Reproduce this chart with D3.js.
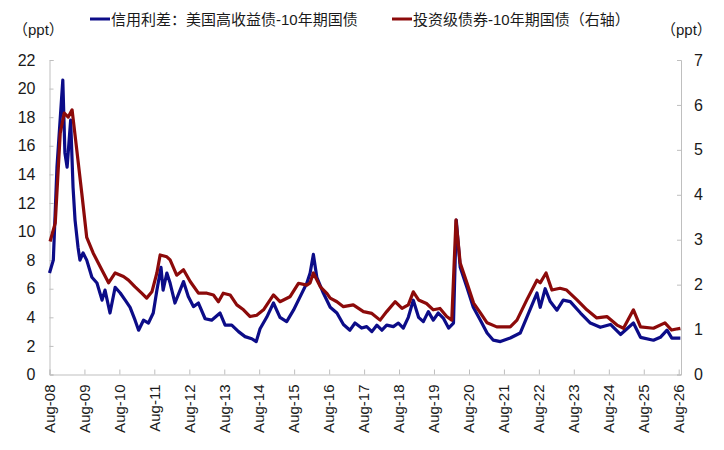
<!DOCTYPE html>
<html>
<head>
<meta charset="utf-8">
<script src="https://cdn.jsdelivr.net/npm/d3@7"></script>
<style>
  body { margin: 0; background: #fff; }
  text { font-family: "Liberation Sans", Arial, "Noto Sans CJK SC", sans-serif; fill: #1a1a1a; }
</style>
</head>
<body>
<div id="chart"></div>
<script>
// 高收益债利差（左轴）
const hyDates = ['2008-08-01','2008-09-10','2008-10-18','2008-12-18','2009-01-09','2009-02-01','2009-03-10','2009-04-04','2009-04-25','2009-05-26',
  '2009-06-15','2009-07-18','2009-08-25','2009-10-18','2009-12-10','2010-02-01','2010-03-04','2010-04-25','2010-06-18','2010-08-10',
  '2010-10-01','2010-11-21','2011-01-12','2011-02-18','2011-04-10','2011-06-01','2011-07-21','2011-08-28','2011-10-10','2011-11-01',
  '2011-12-10','2012-01-13','2012-03-04','2012-06-01','2012-07-21','2012-09-13','2012-11-04','2013-01-13','2013-03-22','2013-06-18',
  '2013-08-10','2013-10-18','2013-12-28','2014-03-06','2014-05-15','2014-07-01','2014-08-10','2014-10-18','2014-12-28','2015-03-06',
  '2015-05-15','2015-07-25','2015-10-03','2015-12-12','2016-01-15','2016-02-18','2016-03-25','2016-06-01','2016-08-12','2016-10-21',
  '2016-12-28','2017-03-06','2017-04-28','2017-07-06','2017-08-28','2017-10-21','2017-12-12','2018-02-03','2018-03-25','2018-06-03',
  '2018-07-25','2018-09-15','2018-11-06','2018-12-28','2019-02-21','2019-04-12','2019-06-03','2019-07-25','2019-09-15','2019-11-06',
  '2020-01-01','2020-02-21','2020-03-21','2020-05-01','2020-07-10','2020-09-15','2020-11-28','2021-02-06','2021-04-12','2021-06-25',
  '2021-10-06','2022-01-18','2022-03-28','2022-07-12','2022-08-15','2022-10-06','2022-11-28','2023-02-06','2023-04-12','2023-06-25',
  '2023-10-10','2024-01-21','2024-05-04','2024-08-18','2024-12-01','2025-04-15','2025-06-28','2025-11-10','2026-01-21','2026-04-01',
  '2026-05-21','2026-08-18'];
const hyValues = [7.1, 8.0, 14.5, 20.6, 15.5, 14.5, 17.8, 13.1, 10.8, 8.9,
  8.0, 8.5, 8.0, 6.8, 6.4, 5.2, 5.9, 4.3, 6.1, 5.7,
  5.2, 4.7, 3.8, 3.1, 3.8, 3.6, 4.3, 5.9, 7.5, 5.9,
  7.1, 6.4, 5.0, 6.5, 5.45, 4.75, 5.0, 3.9, 3.8, 4.3,
  3.45, 3.45, 3.0, 2.65, 2.5, 2.3, 3.2, 4.0, 5.0, 4.0,
  3.7, 4.5, 5.45, 6.4, 7.1, 8.4, 6.8, 5.7, 4.7, 4.3,
  3.5, 3.1, 3.6, 3.25, 3.35, 3.0, 3.45, 3.1, 3.45, 3.35,
  3.6, 3.25, 4.0, 5.2, 4.0, 3.7, 4.4, 3.8, 4.3, 3.95,
  3.25, 3.6, 10.8, 7.5, 6.1, 4.7, 3.8, 2.9, 2.4, 2.3,
  2.55, 2.9, 4.0, 5.7, 4.7, 6.0, 5.1, 4.5, 5.2, 5.1,
  4.3, 3.6, 3.3, 3.5, 2.8, 3.6, 2.6, 2.4, 2.6, 3.1,
  2.55, 2.55];

// 投资级债券利差（右轴）
const igDates = ['2008-08-07','2008-09-30','2008-11-21','2009-01-02','2009-02-13','2009-03-25','2009-05-13','2009-07-04','2009-08-25','2009-11-01',
  '2010-01-13','2010-04-10','2010-06-18','2010-09-13','2010-11-04','2011-01-12','2011-03-22','2011-05-13','2011-07-07','2011-08-28',
  '2011-10-01','2011-12-10','2012-01-13','2012-03-22','2012-06-01','2012-08-10','2012-11-04','2013-02-01','2013-04-10','2013-06-01',
  '2013-07-21','2013-10-01','2013-12-10','2014-02-18','2014-04-28','2014-07-06','2014-09-15','2014-12-28','2015-03-06','2015-06-18',
  '2015-09-15','2015-12-12','2016-01-15','2016-02-18','2016-05-01','2016-07-10','2016-08-12','2016-10-21','2016-12-28','2017-04-10',
  '2017-07-25','2017-10-21','2018-01-15','2018-03-25','2018-06-21','2018-09-01','2018-11-06','2018-12-28','2019-02-21','2019-05-15',
  '2019-07-25','2019-10-03','2019-12-12','2020-02-03','2020-03-18','2020-05-01','2020-07-10','2020-09-18','2020-11-28','2021-02-06',
  '2021-05-18','2021-10-06','2021-12-15','2022-03-28','2022-07-12','2022-08-15','2022-10-15','2022-12-15','2023-03-10','2023-05-18',
  '2023-09-03','2023-12-15','2024-03-28','2024-07-12','2024-10-25','2025-01-01','2025-04-15','2025-06-28','2025-11-10','2026-03-10',
  '2026-05-18','2026-08-18'];
const igValues = [2.96, 3.37, 5.37, 5.82, 5.73, 5.89, 5.0, 4.04, 3.05, 2.70,
  2.40, 2.04, 2.26, 2.18, 2.10, 1.95, 1.81, 1.70, 1.84, 2.26,
  2.66, 2.62, 2.55, 2.21, 2.33, 2.07, 1.81, 1.81, 1.77, 1.62,
  1.81, 1.77, 1.55, 1.44, 1.29, 1.32, 1.44, 1.77, 1.62, 1.73,
  2.03, 1.99, 2.04, 2.26, 1.95, 1.80, 1.70, 1.62, 1.51, 1.55,
  1.40, 1.36, 1.21, 1.40, 1.62, 1.47, 1.55, 1.84, 1.66, 1.58,
  1.44, 1.47, 1.29, 1.21, 3.44, 2.48, 2.04, 1.59, 1.37, 1.15,
  1.06, 1.06, 1.21, 1.66, 2.10, 2.04, 2.26, 1.88, 1.92, 1.88,
  1.66, 1.44, 1.26, 1.29, 1.10, 1.03, 1.44, 1.06, 1.03, 1.15,
  0.99, 1.03];

const leftTicks = d3.range(0, 23, 2);
const rightTicks = d3.range(0, 8, 1);
const xTickYears = d3.range(2008, 2027);
const seriesNames = ['信用利差：美国高收益债-10年期国债', '投资级债券-10年期国债（右轴）'];
const seriesColors = ['#0c0c88', '#8c0a0a'];

const W = 724, H = 450;
const box = {left: 49.5, right: 681, top: 60, bottom: 374.5};
const parse = d3.timeParse('%Y-%m-%d');
const fmt = d3.timeFormat('Aug-%y');

const svg = d3.select('#chart').append('svg').attr('width', W).attr('height', H);

const x = d3.scaleTime()
  .domain([new Date(2008, 7, 1), new Date(2026, 7, 25)])
  .range([box.left, box.right]);
const yL = d3.scaleLinear().domain([0, 22]).range([box.bottom, box.top]);
const yR = d3.scaleLinear().domain([0, 7]).range([box.bottom, box.top]);

const axisColor = '#bfbfbf';

// 坐标轴：刻度朝内
const gx = svg.append('g').attr('transform', `translate(0, ${box.bottom})`)
  .call(d3.axisBottom(x).tickValues(xTickYears.map(y => new Date(y, 7, 1))).tickSize(-5).tickFormat(''));
gx.selectAll('path, line').attr('stroke', axisColor);

gx.selectAll('.xl').data(xTickYears).enter().append('text')
  .attr('class', 'xl')
  .attr('transform', d => `translate(${x(new Date(d, 7, 1))}, 10) rotate(-90)`)
  .attr('text-anchor', 'end').attr('dy', '0.35em')
  .attr('font-size', 15)
  .text(d => fmt(new Date(d, 7, 1)));

const gl = svg.append('g').attr('transform', `translate(${box.left}, 0)`)
  .call(d3.axisLeft(yL).tickValues(leftTicks).tickSize(-4).tickPadding(14));
gl.selectAll('path, line').attr('stroke', axisColor);
gl.selectAll('text').attr('font-size', 16).attr('fill', '#1a1a1a');

const gr = svg.append('g').attr('transform', `translate(${box.right}, 0)`)
  .call(d3.axisRight(yR).tickValues(rightTicks).tickFormat(d3.format('d')).tickSize(-4).tickPadding(13));
gr.selectAll('path, line').attr('stroke', axisColor);
gr.selectAll('text').attr('font-size', 16).attr('fill', '#1a1a1a');

// 单位
svg.append('text').attr('x', 13).attr('y', 35).attr('font-size', 15).text('（ppt）');
svg.append('text').attr('x', 661).attr('y', 35).attr('font-size', 15).text('（ppt）');

// 曲线
const hy = hyDates.map((d, i) => ({date: parse(d), v: hyValues[i]}));
const ig = igDates.map((d, i) => ({date: parse(d), v: igValues[i]}));

const lineL = d3.line().x(d => x(d.date)).y(d => yL(d.v));
const lineR = d3.line().x(d => x(d.date)).y(d => yR(d.v));

svg.append('path').datum(hy).attr('d', lineL)
  .attr('fill', 'none').attr('stroke', seriesColors[0]).attr('stroke-width', 3.2).attr('stroke-linejoin', 'round');
svg.append('path').datum(ig).attr('d', lineR)
  .attr('fill', 'none').attr('stroke', seriesColors[1]).attr('stroke-width', 3.2).attr('stroke-linejoin', 'round');

// 图例
const legendX = [90, 392];
const lg = svg.append('g').selectAll('g').data(seriesNames).enter().append('g')
  .attr('transform', (d, i) => `translate(${legendX[i]}, 19)`);
lg.append('line').attr('x1', 0).attr('x2', 20).attr('y1', 0).attr('y2', 0)
  .attr('stroke', (d, i) => seriesColors[i]).attr('stroke-width', 3);
lg.append('text').attr('x', 21).attr('y', 5.5).attr('font-size', 15).text(d => d);
</script>
</body>
</html>
